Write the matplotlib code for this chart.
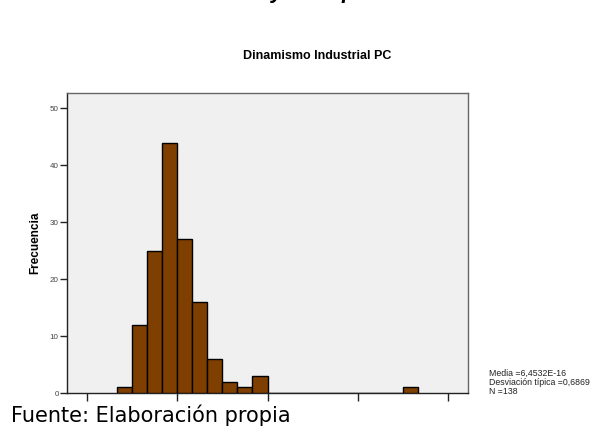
import matplotlib
matplotlib.use("Agg")
import matplotlib.pyplot as plt
import numpy as np

plt.rcParams['font.family'] = ['Liberation Sans', 'DejaVu Sans']

# Data: histogram bins (width 1/3) starting at -4/3
bin_start = -4.0 / 3.0
bin_width = 1.0 / 3.0
counts = [1, 12, 25, 44, 27, 16, 6, 2, 1, 3, 0, 0, 0, 0, 0, 0, 0, 0, 0, 1]
x_ticks = [-2, 0, 2, 4, 6]
y_ticks = [0, 10, 20, 30, 40, 50]
title = "Dinamismo Industrial PC"
ylabel = "Frecuencia"
stats_lines = ["Media =6,4532E-16", "Desviación típica =0,6869", "N =138"]
source = "Fuente: Elaboración propia"

fig = plt.figure(figsize=(5.99, 4.26), dpi=100)
fig.patch.set_facecolor("white")
ax = fig.add_axes([67/599, 33/426, 401/599, 300/426])
ax.set_facecolor("#F0F0F0")

edges = bin_start + bin_width * np.arange(len(counts))
ax.bar(edges, counts, width=bin_width, align="edge", color="#7F3F00",
       edgecolor="black", linewidth=1.0, zorder=3)

ax.set_xlim(-2.445, 6.445)
ax.set_ylim(0, 52.7)
ax.set_xticks(x_ticks)
ax.set_xticklabels([])
ax.set_yticks(y_ticks)
ax.set_yticklabels([str(v) for v in y_ticks], fontsize=5.8, color="#444444")
ax.tick_params(axis="x", direction="out", length=6, width=1, color="#222222")
ax.tick_params(axis="y", direction="out", length=5, width=1, color="#222222", pad=1)
for side in ["top", "right"]:
    ax.spines[side].set_color("#666666")
    ax.spines[side].set_linewidth(1.0)
for side in ["left", "bottom"]:
    ax.spines[side].set_color("#222222")
    ax.spines[side].set_linewidth(1.0)

fig.text(35/599, 1 - 243/426, ylabel, fontsize=8.5, fontweight="bold",
         rotation=90, ha="center", va="center")

fig.text(317/599, 1 - 56/426, title, fontsize=9, fontweight="bold",
         ha="center", va="center")

for i, line in enumerate(stats_lines):
    fig.text(489/599, 1 - (373.5 + 8.8*i)/426, line, fontsize=6.3,
             ha="left", va="center", color="#222222")

fig.text(11/599, 1 - 421.5/426, source, fontsize=15, ha="left",
         va="baseline", color="black", family="DejaVu Sans")

# Cut-off heading above the figure (only descenders visible)
fig.text(271/599, 1 + 2/426, "y", fontsize=16, fontweight="bold",
         style="italic", ha="left", va="baseline")
fig.text(341/599, 1 + 2/426, "p", fontsize=16, fontweight="bold",
         style="italic", ha="left", va="baseline")

fig.savefig("out.png", dpi=100)
